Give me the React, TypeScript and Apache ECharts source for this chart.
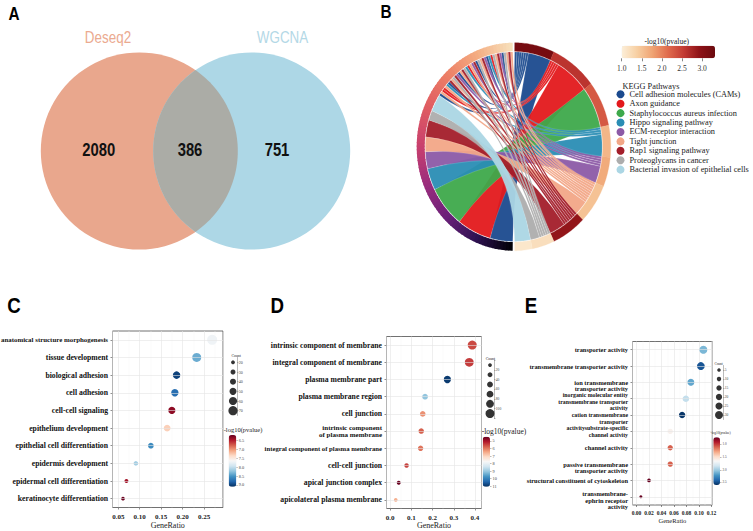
import React, { useEffect, useRef } from 'react';
import * as echarts from 'echarts';

// ---------------- DATA ----------------
// Panel A: Venn
const VENN_SETS = ['Deseq2', 'WGCNA'];
const VENN_COUNTS = [2080, 386, 751]; // only Deseq2, both, only WGCNA

// Panel B: KEGG chord
const KEGG_PATHWAYS = [
  'Cell adhesion molecules (CAMs)',
  'Axon guidance',
  'Staphylococcus aureus infection',
  'Hippo signaling pathway',
  'ECM-receptor interaction',
  'Tight junction',
  'Rap1 signaling pathway',
  'Proteoglycans in cancer',
  'Bacterial invasion of epithelial cells',
];
const KEGG_LOGP = [3.2, 2.6, 2.3, 1.6, 1.7, 1.5, 2.9, 1.2, 1.1];
const KEGG_MAIN_LINK = [10, 15, 17, 9, 7, 6, 7, 4, 7];
const KEGG_MINOR_LINKS = [0, 5, 1, 1, 5, 3, 0, 6, 5, 7, 6, 4, 0, 5, 6, 7, 3, 1, 5, 4, 6, 0, 7, 5, 6, 4, 0, 3, 1, 7, 5, 6, 4, 0, 7, 5, 6, 5];
const KEGG_LOGP_TICKS = [1.0, 1.5, 2.0, 2.5, 3.0];

// Panel C: GO BP
const C_TERMS = [
  'anatomical structure morphogenesis', 'tissue development', 'biological adhesion', 'cell adhesion',
  'cell-cell signaling', 'epithelium development', 'epithelial cell differentiation',
  'epidermis development', 'epidermal cell differentiation', 'keratinocyte differentiation',
];
const C_RATIO = [0.269, 0.233, 0.186, 0.182, 0.175, 0.164, 0.126, 0.091, 0.069, 0.061];
const C_LOGP = [7.7, 8.37, 9.0, 8.75, 6.33, 7.29, 8.57, 8.14, 6.41, 6.2];
const C_COUNT = [78, 68, 54, 53, 51, 47, 37, 26, 20, 18];
const C_COUNT_BREAKS = [20, 30, 40, 50, 60, 70];

// Panel D: GO CC
const D_TERMS = [
  'intrinsic component of membrane', 'integral component of membrane', 'plasma membrane part',
  'plasma membrane region', 'cell junction', 'intrinsic component\nof plasma membrane',
  'integral component of plasma membrane', 'cell-cell junction', 'apical junction complex',
  'apicolateral plasma membrane',
];
const D_RATIO = [0.387, 0.373, 0.27, 0.165, 0.154, 0.147, 0.144, 0.078, 0.041, 0.027];
const D_LOGP = [5.57, 5.44, 10.92, 9.07, 6.23, 5.77, 5.97, 5.5, 4.47, 6.56];
const D_COUNT = [112, 108, 78, 48, 45, 43, 42, 23, 12, 8];
const D_COUNT_KEYS = [10, 30, 50, 70, 90, 110];
const D_COUNT_BREAKS = [20, 40, 60, 80, 100];

// Panel E: GO MF
const E_TERMS = [
  'transporter activity', 'transmembrane transporter activity', 'ion transmembrane\ntransporter activity',
  'inorganic molecular entity\ntransmembrane transporter\nactivity',
  'cation transmembrane\ntransporter\nactivitysubstrate-specific\nchannel activity',
  '', 'channel activity', 'passive transmembrane\ntransporter activity',
  'structural constituent of cytoskeleton', 'transmembrane-\nephrin receptor\nactivity',
];
const E_RATIO = [0.107, 0.103, 0.087, 0.079, 0.073, 0.054, 0.054, 0.054, 0.02, 0.007];
const E_LOGP = [2.09, 2.47, 2.15, 1.89, 2.58, 1.62, 1.1, 1.1, 0.72, 0.72];
const E_COUNT = [30, 29, 24, 22, 21, 15, 15, 15, 6, 2];
const E_COUNT_BREAKS = [5, 10, 15, 20, 25, 30];

// ---------------- STYLE ----------------
const SERIF = '"Liberation Serif", "Times New Roman", serif';
const SANS = '"Liberation Sans", Arial, sans-serif';
const RDBU = ['#67001F', '#B2182B', '#D6604D', '#F4A582', '#FDDBC7', '#F7F7F7', '#D1E5F0', '#92C5DE', '#4393C3', '#2166AC', '#053061'];
const B_PALETTE = ['#FCEFD9', '#F7CFA2', '#EFA272', '#DF6A4C', '#C23A33', '#8E1217', '#6B0A0E'];
const GENE_RAMP = ['#000004', '#2D1150', '#6A2079', '#9A2D7D', '#C8406E', '#DF5B62', '#EC7E66', '#F4AD82', '#F7E2BE'];
const KEGG_COLORS = ['#1B4A8E', '#E3191C', '#3EA94B', '#2A8DB4', '#8C5AA6', '#F2A787', '#A31E2A', '#ADADAD', '#ABD6E4'];

// ---------------- CHORD GEOMETRY ----------------
const B_CX = 513.7, B_CY = 146.7, B_R = 97, B_RING = 8, B_KY = 1.072;
const L_START = 180.6, L_END = 359.4, R_START = 0.6, R_END = 179.4;

const bpt = (r: number, deg: number) => {
  const a = (deg * Math.PI) / 180;
  return [B_CX + r * Math.sin(a), B_CY - r * B_KY * Math.cos(a)];
};
function arcPts(r: number, a1: number, a2: number) {
  const n = Math.max(2, Math.ceil(Math.abs(a2 - a1)) + 1);
  const out: number[][] = [];
  for (let i = 0; i < n; i++) out.push(bpt(r, a1 + ((a2 - a1) * i) / (n - 1)));
  return out;
}
function ringPoly(a1: number, a2: number) {
  return [...arcPts(B_R, a1, a2), ...arcPts(B_R - B_RING, a2, a1)];
}
const f2 = (v: number) => v.toFixed(2);
function ribbonPath(la1: number, la2: number, ra1: number, ra2: number) {
  const r = B_R - B_RING - 0.6;
  const A = arcPts(r, la1, la2), B = arcPts(r, ra1, ra2);
  let d = `M ${f2(A[0][0])} ${f2(A[0][1])}`;
  A.slice(1).forEach((p) => (d += ` L ${f2(p[0])} ${f2(p[1])}`));
  d += ` Q ${f2(B_CX)} ${f2(B_CY)} ${f2(B[0][0])} ${f2(B[0][1])}`;
  B.slice(1).forEach((p) => (d += ` L ${f2(p[0])} ${f2(p[1])}`));
  d += ` Q ${f2(B_CX)} ${f2(B_CY)} ${f2(A[0][0])} ${f2(A[0][1])} Z`;
  return d;
}
function layoutChord() {
  const links: any[] = [];
  KEGG_MAIN_LINK.forEach((u, p) => links.push({ p, u }));
  KEGG_MINOR_LINKS.forEach((p) => links.push({ p, u: 1 }));
  const total = links.reduce((s, l) => s + l.u, 0);
  const ls = (L_END - L_START) / total, rs = (R_END - R_START) / total;
  let c = L_START;
  links.forEach((l) => { l.la1 = c; c += l.u * ls; l.la2 = c; });
  let rc = R_START;
  const segs = KEGG_PATHWAYS.map((_, p) => {
    const mine = links.filter((l) => l.p === p);
    const main = mine[0];
    const minors = mine.slice(1).sort((a, b) => b.la1 - a.la1);
    const start = rc;
    [...minors, main].forEach((l) => { l.ra1 = rc; rc += l.u * rs; l.ra2 = rc; });
    return [start, rc];
  });
  return { links, segs };
}

// ---------------- DOT PANELS ----------------
const PANELS = [
  {
    terms: C_TERMS, ratio: C_RATIO, logp: C_LOGP, count: C_COUNT,
    labelFont: [6.9, 7.7, 7.7, 7.7, 7.7, 7.7, 7.7, 7.7, 7.7, 7.7], labelPad: null, lineHeight: 7.7,
    plot: { left: 112.5, top: 331, width: 110.5, height: 176.5 },
    xMin: 0.0365, xMax: 0.2943, xSplit: 5, xDigits: 2, xFont: 7, xMargin: 5.5, nameFont: 8, nameGap: 13.5,
    size: (c: number) => 3.7 + ((c - 18) / (78 - 18)) * (10 - 3.7),
    legend: { rect: { left: 229, top: 357.5, width: 8, height: 58 }, keys: C_COUNT_BREAKS, labels: C_COUNT_BREAKS.map(String), offset: false, font: 4, title: [231.5, 356], titleFont: 3.8 },
    bar: { rect: { left: 228.7, top: 435, width: 7.6, height: 51.7 }, min: 6.18, max: 9.1, split: 5, digits: 1, font: 4.3, title: [223.7, 429.5], titleFont: 6.5 },
  },
  {
    terms: D_TERMS, ratio: D_RATIO, logp: D_LOGP, count: D_COUNT,
    labelFont: [7.7, 7.7, 7.7, 7.7, 7.7, 7.0, 6.7, 7.7, 7.7, 7.7], labelPad: null, lineHeight: 7.1,
    plot: { left: 386.5, top: 336.5, width: 95, height: 172 },
    xMin: -0.0165, xMax: 0.4306, xSplit: 5, xDigits: 1, xFont: 7, xMargin: 5.5, nameFont: 8, nameGap: 12,
    size: (c: number) => 3.7 + ((c - 8) / (112 - 8)) * (9 - 3.7),
    legend: { rect: { left: 486, top: 360.2, width: 8, height: 58.2 }, keys: D_COUNT_KEYS, labels: D_COUNT_BREAKS.map(String), offset: true, font: 3.6, title: [485.7, 359], titleFont: 3.8 },
    bar: { rect: { left: 482.7, top: 436.7, width: 7.3, height: 50 }, min: 4.45, max: 11.05, split: 5, digits: 0, font: 4.3, title: [481.7, 431.7], titleFont: 7.5 },
  },
  {
    terms: E_TERMS, ratio: E_RATIO, logp: E_LOGP, count: E_COUNT,
    labelFont: [6.4, 6.4, 6.4, 5.8, 5.8, 6.4, 6.4, 6.4, 6.4, 6.4], labelPad: [0, 0, 1, 1, 3, 0, 0, 1, 0, 1], lineHeight: 6.5,
    plot: { left: 632.5, top: 341.5, width: 79.8, height: 163.5 },
    xMin: -0.0064, xMax: 0.1213, xSplit: 6, xDigits: 2, xFont: 5.5, xMargin: 5, nameFont: 6.5, nameGap: 10.5,
    size: (c: number) => 3 + ((c - 2) / (30 - 2)) * (8 - 3),
    legend: { rect: { left: 715, top: 365.5, width: 8, height: 54 }, keys: E_COUNT_BREAKS, labels: E_COUNT_BREAKS.map(String), offset: false, font: 3.5, title: [714.5, 364], titleFont: 3.3 },
    bar: { rect: { left: 713.3, top: 437.3, width: 6.7, height: 47.7 }, min: 0.72, max: 2.6, split: 4, digits: 1, font: 3.4, title: [710.5, 433.3], titleFont: 3.4 },
  },
];

function txt(text: string, x: number, y: number, s: any) {
  return {
    type: 'text', x, y, silent: true, z: 50, scaleX: s.scaleX || 1,
    style: {
      text, fill: s.fill || '#222', fontSize: s.fontSize, fontFamily: s.fontFamily || SERIF,
      fontWeight: s.fontWeight || 'normal', align: s.align || 'left', textAlign: s.align || 'left',
      verticalAlign: 'middle', textVerticalAlign: 'middle',
    },
  };
}

function addDotPanel(cfg: any, grid: any[], xAxis: any[], yAxis: any[], series: any[], visualMap: any[], graphic: any[]) {
  const g0 = grid.length;
  grid.push({ ...cfg.plot, show: true, backgroundColor: '#fff', borderColor: '#4d4d4d', borderWidth: 0.8, containLabel: false, outerBoundsMode: 'none' });
  grid.push({ ...cfg.legend.rect, show: false, containLabel: false, outerBoundsMode: 'none' });
  grid.push({ ...cfg.bar.rect, show: false, containLabel: false, outerBoundsMode: 'none' });
  const tickLine = { color: '#444', width: 0.6 };

  xAxis.push({
    gridIndex: g0, type: 'value', min: cfg.xMin, max: cfg.xMax, splitNumber: cfg.xSplit,
    axisLine: { show: false, onZero: false },
    axisTick: { show: true, length: 2, lineStyle: tickLine },
    axisLabel: { fontFamily: SERIF, fontWeight: 'bold', fontSize: cfg.xFont, color: '#222', margin: cfg.xMargin, showMinLabel: false, showMaxLabel: false, formatter: (v: number) => v.toFixed(cfg.xDigits) },
    splitLine: { show: true, lineStyle: { color: '#E4E4E4', width: 0.6 } },
    minorTick: { show: false, splitNumber: 2 },
    minorSplitLine: { show: true, lineStyle: { color: '#F2F2F2', width: 0.4 } },
    name: 'GeneRatio', nameLocation: 'middle', nameGap: cfg.nameGap,
    nameTextStyle: { fontFamily: SERIF, fontSize: cfg.nameFont, color: '#222' },
  });
  yAxis.push({
    gridIndex: g0, type: 'category', inverse: true, boundaryGap: true,
    data: cfg.terms.map((t: string, i: number) => ({
      value: '\n'.repeat(cfg.labelPad ? cfg.labelPad[i] : 0) + t,
      textStyle: { fontSize: cfg.labelFont[i] },
    })),
    axisLine: { show: false, onZero: false },
    axisTick: { show: true, alignWithLabel: true, interval: 0, length: 2, lineStyle: tickLine },
    axisLabel: { interval: 0, fontFamily: SERIF, fontWeight: 'bold', color: '#111', margin: 4.5, lineHeight: cfg.lineHeight },
    splitLine: { show: false },
  });

  // count legend axes
  xAxis.push({ gridIndex: g0 + 1, type: 'value', min: 0, max: 2, show: false });
  const legLine = { color: '#777', width: 0.5 };
  const legLabel = { fontFamily: SERIF, fontSize: cfg.legend.font, color: '#444', margin: 1.8 };
  if (cfg.legend.offset) {
    yAxis.push({
      gridIndex: g0 + 1, type: 'value', inverse: true, position: 'right', min: -0.5, max: cfg.legend.keys.length - 0.5, interval: 1,
      axisLine: { show: true, onZero: false, lineStyle: legLine },
      axisTick: { show: true, length: 1.5, lineStyle: legLine },
      axisLabel: { ...legLabel, showMinLabel: true, showMaxLabel: true, formatter: (v: number) => { const k = Math.round(v - 0.5); return k >= 0 && k < cfg.legend.labels.length ? cfg.legend.labels[k] : ''; } },
      splitLine: { show: false },
    });
  } else {
    yAxis.push({
      gridIndex: g0 + 1, type: 'category', inverse: true, position: 'right', boundaryGap: true, data: cfg.legend.labels,
      axisLine: { show: true, onZero: false, lineStyle: legLine },
      axisTick: { show: true, alignWithLabel: true, interval: 0, length: 1.5, lineStyle: legLine },
      axisLabel: { ...legLabel, interval: 0 },
      splitLine: { show: false },
    });
  }
  // colorbar axes
  xAxis.push({ gridIndex: g0 + 2, type: 'value', min: 0, max: 1, show: false });
  yAxis.push({
    gridIndex: g0 + 2, type: 'value', min: cfg.bar.min, max: cfg.bar.max, inverse: true, position: 'right', splitNumber: cfg.bar.split,
    axisLine: { show: false, onZero: false },
    axisTick: { show: true, length: 1.5, lineStyle: { color: '#777', width: 0.5 } },
    axisLabel: { fontFamily: SERIF, fontSize: cfg.bar.font, color: '#444', margin: 2.5, showMinLabel: false, showMaxLabel: false, formatter: (v: number) => v.toFixed(cfg.bar.digits) },
    splitLine: { show: false },
  });

  // horizontal grid lines through categories
  series.push({
    type: 'scatter', xAxisIndex: g0, yAxisIndex: g0, silent: true, z: 1, symbolSize: 0,
    data: cfg.ratio.map((r: number, i: number) => [r, i]),
    markLine: {
      silent: true, symbol: ['none', 'none'], label: { show: false }, animation: false,
      lineStyle: { color: '#E4E4E4', width: 0.6, type: 'solid' },
      data: cfg.terms.map((_: string, i: number) => ({ yAxis: i })),
    },
  });
  const si = series.length;
  series.push({
    type: 'scatter', xAxisIndex: g0, yAxisIndex: g0, silent: true, z: 3,
    data: cfg.ratio.map((r: number, i: number) => [r, i, cfg.logp[i], cfg.count[i]]),
    symbolSize: (v: number[]) => cfg.size(v[3]),
    itemStyle: { opacity: 1 },
  });
  series.push({
    type: 'scatter', xAxisIndex: g0 + 1, yAxisIndex: g0 + 1, silent: true, z: 3,
    data: cfg.legend.keys.map((c: number, i: number) => [1, i, c]),
    symbolSize: (v: number[]) => cfg.size(v[2]),
    itemStyle: { color: '#333', opacity: 1 },
  });
  visualMap.push({
    type: 'continuous', seriesIndex: si, dimension: 2, min: cfg.bar.min, max: cfg.bar.max,
    inverse: true, orient: 'vertical', left: cfg.bar.rect.left, top: cfg.bar.rect.top,
    itemWidth: cfg.bar.rect.width, itemHeight: cfg.bar.rect.height, calculable: false, hoverLink: false,
    padding: 0, inRange: { color: RDBU },
  });
  graphic.push(txt('Count', cfg.legend.title[0], cfg.legend.title[1], { fontSize: cfg.legend.titleFont }));
  graphic.push(txt('-log10(pvalue)', cfg.bar.title[0], cfg.bar.title[1], { fontSize: cfg.bar.titleFont }));
}

function buildOption() {
  const grid: any[] = [], xAxis: any[] = [], yAxis: any[] = [], series: any[] = [], visualMap: any[] = [], graphic: any[] = [];

  PANELS.forEach((cfg) => addDotPanel(cfg, grid, xAxis, yAxis, series, visualMap, graphic));

  // ---- Panel B ----
  const chord = layoutChord();
  KEGG_PATHWAYS.forEach((name, p) => {
    series.push({
      type: 'custom', name, coordinateSystem: 'none', silent: true, z: 2,
      itemStyle: { color: KEGG_COLORS[p] },
      data: chord.links.filter((l) => l.p === p).map((l) => [l.la1, l.la2, l.ra1, l.ra2]),
      renderItem: (_params: any, api: any) => ({
        type: 'path',
        shape: { pathData: ribbonPath(api.value(0), api.value(1), api.value(2), api.value(3)) },
        style: { fill: KEGG_COLORS[p], stroke: 'rgba(255,255,255,0.6)', lineWidth: 0.25, opacity: 0.95 },
      }),
    });
  });
  const N_PIECES = 90;
  series.push({
    type: 'custom', coordinateSystem: 'none', silent: true, z: 4,
    data: Array.from({ length: N_PIECES }, (_, i) => [i]),
    renderItem: (_params: any, api: any) => {
      const i = api.value(0);
      const step = (L_END - L_START) / N_PIECES;
      const a1 = L_START + i * step, a2 = Math.min(L_END, a1 + step + 0.6);
      const col = echarts.color.lerp((i + 0.5) / N_PIECES, GENE_RAMP);
      return { type: 'polygon', shape: { points: ringPoly(a1, a2) }, style: { fill: col } };
    },
  });
  const ringIdx = series.length;
  series.push({
    type: 'custom', coordinateSystem: 'none', silent: true, z: 4,
    data: chord.segs.map((s, p) => [s[0], s[1], KEGG_LOGP[p]]),
    renderItem: (_params: any, api: any) => {
      const col = api.visual('color');
      return { type: 'polygon', shape: { points: ringPoly(api.value(0), api.value(1)) }, style: { fill: col, stroke: col, lineWidth: 0.3 } };
    },
  });
  visualMap.push({
    type: 'continuous', seriesIndex: ringIdx, dimension: 2, min: 1.0, max: 3.32,
    orient: 'horizontal', left: 621.7, top: 45.7, itemWidth: 12.6, itemHeight: 93.3,
    calculable: false, hoverLink: false, padding: 0, inRange: { color: B_PALETTE },
  });
  const gb = grid.length;
  grid.push({ left: 621.7, top: 45.7, width: 93.3, height: 12.6, show: false, containLabel: false, outerBoundsMode: 'none' });
  xAxis.push({
    gridIndex: gb, type: 'value', min: 1.0, max: 3.32, position: 'bottom', splitNumber: 5,
    axisLine: { show: false, onZero: false },
    axisTick: { show: true, length: 3, lineStyle: { color: '#333', width: 0.6 }, customValues: KEGG_LOGP_TICKS },
    axisLabel: { fontFamily: SERIF, fontSize: 7.5, color: '#333', margin: 6, customValues: KEGG_LOGP_TICKS, formatter: (v: number) => v.toFixed(1) },
    splitLine: { show: false },
  });
  yAxis.push({ gridIndex: gb, type: 'value', min: 0, max: 1, show: false });
  graphic.push(txt('-log10(pvalue)', 666.7, 41.3, { fontSize: 7.5, align: 'center' }));
  graphic.push(txt('KEGG Pathways', 622.5, 86, { fontSize: 8.3 }));

  // ---- Panel A: Venn ----
  const VL = [139.3, 151], VR = [251.7, 151], VRAD = 98.5;
  const half = (VR[0] - VL[0]) / 2;
  const th = (Math.acos(half / VRAD) * 180) / Math.PI;
  const lens: number[][] = [];
  for (let k = 0; k <= 60; k++) {
    const a = ((180 - th + (2 * th * k) / 60) * Math.PI) / 180;
    lens.push([VR[0] + VRAD * Math.cos(a), VR[1] + VRAD * Math.sin(a)]);
  }
  for (let k = 0; k <= 60; k++) {
    const a = ((-th + (2 * th * k) / 60) * Math.PI) / 180;
    lens.push([VL[0] + VRAD * Math.cos(a), VL[1] + VRAD * Math.sin(a)]);
  }
  graphic.push({ type: 'circle', shape: { cx: VL[0], cy: VL[1], r: VRAD }, style: { fill: '#E9A78D' }, silent: true, z: 1 });
  graphic.push({ type: 'circle', shape: { cx: VR[0], cy: VR[1], r: VRAD }, style: { fill: '#ADD7E6' }, silent: true, z: 1 });
  graphic.push({ type: 'polygon', shape: { points: lens }, style: { fill: '#ABACA6' }, silent: true, z: 2 });
  graphic.push(txt(VENN_SETS[0], 108, 37.5, { fontSize: 16, fontFamily: SANS, fill: '#EBAA90', align: 'center', scaleX: 0.84 }));
  graphic.push(txt(VENN_SETS[1], 282.5, 37.5, { fontSize: 16, fontFamily: SANS, fill: '#B3D8E6', align: 'center', scaleX: 0.84 }));
  const numX = [98.8, 190, 277];
  VENN_COUNTS.forEach((n, i) => graphic.push(txt(String(n), numX[i], 150, { fontSize: 18.5, fontFamily: SANS, fontWeight: 'bold', fill: '#111', align: 'center', scaleX: 0.8 })));

  // panel letters
  const LETTERS: [string, number, number, number][] = [['A', 14, 14, 18], ['B', 386, 12.5, 18], ['C', 14, 305.5, 22], ['D', 277.3, 305.5, 22], ['E', 531, 305.5, 22]];
  LETTERS.forEach(([t, x, y, s]) => graphic.push(txt(t, x, y, { fontSize: s, fontFamily: SANS, fontWeight: 'bold', fill: '#000', align: 'center', scaleX: 0.85 })));

  return {
    animation: false,
    backgroundColor: '#fff',
    textStyle: { fontFamily: SERIF },
    tooltip: { show: false },
    legend: {
      orient: 'vertical', left: 616.5, top: 90.3, itemWidth: 8, itemHeight: 8, itemGap: 1.42, padding: 0,
      icon: 'circle', selectedMode: false, data: KEGG_PATHWAYS,
      textStyle: { fontFamily: SERIF, fontSize: 8.3, color: '#222', lineHeight: 8 },
    },
    grid, xAxis, yAxis, series, visualMap,
    graphic: { elements: graphic },
  };
}

export default function App() {
  const ref = useRef<HTMLDivElement>(null);
  useEffect(() => {
    document.body.style.margin = '0';
    if (!ref.current) return;
    const chart = echarts.init(ref.current, undefined, { renderer: 'svg' });
    chart.setOption(buildOption() as any);
    return () => chart.dispose();
  }, []);
  return (
    <div style={{ position: 'fixed', left: 0, top: 0, width: 753, height: 531, background: '#fff' }}>
      <div ref={ref} style={{ width: 753, height: 531 }} />
    </div>
  );
}
